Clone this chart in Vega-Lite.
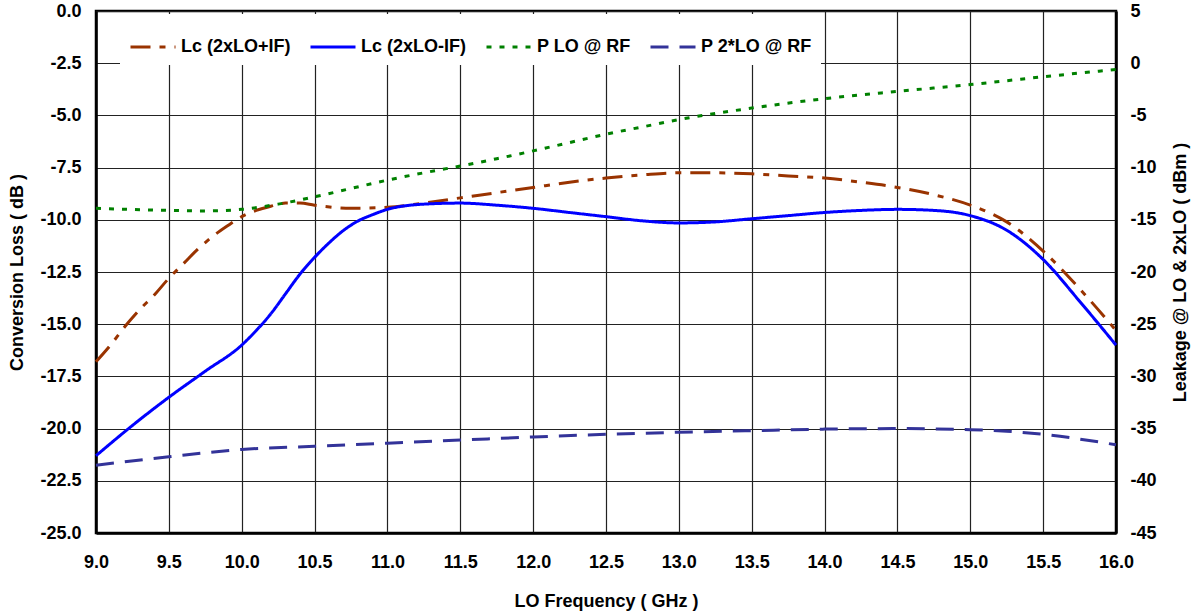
{
  "$schema": "https://vega.github.io/schema/vega-lite/v6.json",
  "width": 1020,
  "height": 522,
  "autosize": {"type": "none"},
  "padding": {"left": 96, "top": 11, "right": 79, "bottom": 81},
  "background": "white",
  "datasets": {
    "cl": [
      {"f": 9.0, "v": -16.8, "s": "Lc (2xLO+IF)"},
      {"f": 9.1, "v": -16.0, "s": "Lc (2xLO+IF)"},
      {"f": 9.2, "v": -15.1, "s": "Lc (2xLO+IF)"},
      {"f": 9.3, "v": -14.3, "s": "Lc (2xLO+IF)"},
      {"f": 9.4, "v": -13.6, "s": "Lc (2xLO+IF)"},
      {"f": 9.5, "v": -12.8, "s": "Lc (2xLO+IF)"},
      {"f": 9.6, "v": -12.1, "s": "Lc (2xLO+IF)"},
      {"f": 9.7, "v": -11.4, "s": "Lc (2xLO+IF)"},
      {"f": 9.8, "v": -10.8, "s": "Lc (2xLO+IF)"},
      {"f": 9.9, "v": -10.3, "s": "Lc (2xLO+IF)"},
      {"f": 10.0, "v": -9.85, "s": "Lc (2xLO+IF)"},
      {"f": 10.1, "v": -9.55, "s": "Lc (2xLO+IF)"},
      {"f": 10.2, "v": -9.35, "s": "Lc (2xLO+IF)"},
      {"f": 10.3, "v": -9.2, "s": "Lc (2xLO+IF)"},
      {"f": 10.4, "v": -9.2, "s": "Lc (2xLO+IF)"},
      {"f": 10.5, "v": -9.3, "s": "Lc (2xLO+IF)"},
      {"f": 10.75, "v": -9.45, "s": "Lc (2xLO+IF)"},
      {"f": 11.0, "v": -9.4, "s": "Lc (2xLO+IF)"},
      {"f": 11.25, "v": -9.2, "s": "Lc (2xLO+IF)"},
      {"f": 11.5, "v": -8.95, "s": "Lc (2xLO+IF)"},
      {"f": 11.75, "v": -8.7, "s": "Lc (2xLO+IF)"},
      {"f": 12.0, "v": -8.45, "s": "Lc (2xLO+IF)"},
      {"f": 12.25, "v": -8.2, "s": "Lc (2xLO+IF)"},
      {"f": 12.5, "v": -8.0, "s": "Lc (2xLO+IF)"},
      {"f": 12.75, "v": -7.85, "s": "Lc (2xLO+IF)"},
      {"f": 13.0, "v": -7.75, "s": "Lc (2xLO+IF)"},
      {"f": 13.25, "v": -7.75, "s": "Lc (2xLO+IF)"},
      {"f": 13.5, "v": -7.8, "s": "Lc (2xLO+IF)"},
      {"f": 13.75, "v": -7.9, "s": "Lc (2xLO+IF)"},
      {"f": 14.0, "v": -8.0, "s": "Lc (2xLO+IF)"},
      {"f": 14.25, "v": -8.2, "s": "Lc (2xLO+IF)"},
      {"f": 14.5, "v": -8.45, "s": "Lc (2xLO+IF)"},
      {"f": 14.75, "v": -8.8, "s": "Lc (2xLO+IF)"},
      {"f": 15.0, "v": -9.3, "s": "Lc (2xLO+IF)"},
      {"f": 15.25, "v": -10.1, "s": "Lc (2xLO+IF)"},
      {"f": 15.5, "v": -11.5, "s": "Lc (2xLO+IF)"},
      {"f": 15.75, "v": -13.3, "s": "Lc (2xLO+IF)"},
      {"f": 16.0, "v": -15.3, "s": "Lc (2xLO+IF)"},
      {"f": 9.0, "v": -21.3, "s": "Lc (2xLO-IF)"},
      {"f": 9.25, "v": -19.85, "s": "Lc (2xLO-IF)"},
      {"f": 9.5, "v": -18.5, "s": "Lc (2xLO-IF)"},
      {"f": 9.75, "v": -17.25, "s": "Lc (2xLO-IF)"},
      {"f": 10.0, "v": -16.0, "s": "Lc (2xLO-IF)"},
      {"f": 10.1, "v": -15.3, "s": "Lc (2xLO-IF)"},
      {"f": 10.2, "v": -14.5, "s": "Lc (2xLO-IF)"},
      {"f": 10.3, "v": -13.55, "s": "Lc (2xLO-IF)"},
      {"f": 10.4, "v": -12.6, "s": "Lc (2xLO-IF)"},
      {"f": 10.5, "v": -11.8, "s": "Lc (2xLO-IF)"},
      {"f": 10.6, "v": -11.1, "s": "Lc (2xLO-IF)"},
      {"f": 10.7, "v": -10.5, "s": "Lc (2xLO-IF)"},
      {"f": 10.8, "v": -10.05, "s": "Lc (2xLO-IF)"},
      {"f": 10.9, "v": -9.75, "s": "Lc (2xLO-IF)"},
      {"f": 11.0, "v": -9.5, "s": "Lc (2xLO-IF)"},
      {"f": 11.25, "v": -9.25, "s": "Lc (2xLO-IF)"},
      {"f": 11.5, "v": -9.2, "s": "Lc (2xLO-IF)"},
      {"f": 11.75, "v": -9.3, "s": "Lc (2xLO-IF)"},
      {"f": 12.0, "v": -9.45, "s": "Lc (2xLO-IF)"},
      {"f": 12.25, "v": -9.65, "s": "Lc (2xLO-IF)"},
      {"f": 12.5, "v": -9.85, "s": "Lc (2xLO-IF)"},
      {"f": 12.75, "v": -10.05, "s": "Lc (2xLO-IF)"},
      {"f": 13.0, "v": -10.15, "s": "Lc (2xLO-IF)"},
      {"f": 13.25, "v": -10.1, "s": "Lc (2xLO-IF)"},
      {"f": 13.5, "v": -9.95, "s": "Lc (2xLO-IF)"},
      {"f": 13.75, "v": -9.8, "s": "Lc (2xLO-IF)"},
      {"f": 14.0, "v": -9.65, "s": "Lc (2xLO-IF)"},
      {"f": 14.25, "v": -9.55, "s": "Lc (2xLO-IF)"},
      {"f": 14.5, "v": -9.5, "s": "Lc (2xLO-IF)"},
      {"f": 14.75, "v": -9.55, "s": "Lc (2xLO-IF)"},
      {"f": 15.0, "v": -9.8, "s": "Lc (2xLO-IF)"},
      {"f": 15.25, "v": -10.5, "s": "Lc (2xLO-IF)"},
      {"f": 15.5, "v": -11.9, "s": "Lc (2xLO-IF)"},
      {"f": 15.75, "v": -13.9, "s": "Lc (2xLO-IF)"},
      {"f": 16.0, "v": -16.0, "s": "Lc (2xLO-IF)"}
    ],
    "leak": [
      {"f": 9.0, "v": -13.9, "s": "P LO @ RF"},
      {"f": 9.5, "v": -14.1, "s": "P LO @ RF"},
      {"f": 9.75, "v": -14.15, "s": "P LO @ RF"},
      {"f": 10.0, "v": -14.0, "s": "P LO @ RF"},
      {"f": 10.25, "v": -13.5, "s": "P LO @ RF"},
      {"f": 10.5, "v": -12.8, "s": "P LO @ RF"},
      {"f": 10.75, "v": -12.0, "s": "P LO @ RF"},
      {"f": 11.0, "v": -11.2, "s": "P LO @ RF"},
      {"f": 11.25, "v": -10.5, "s": "P LO @ RF"},
      {"f": 11.5, "v": -9.85, "s": "P LO @ RF"},
      {"f": 11.75, "v": -9.15, "s": "P LO @ RF"},
      {"f": 12.0, "v": -8.4, "s": "P LO @ RF"},
      {"f": 12.25, "v": -7.6, "s": "P LO @ RF"},
      {"f": 12.5, "v": -6.8, "s": "P LO @ RF"},
      {"f": 12.75, "v": -6.1, "s": "P LO @ RF"},
      {"f": 13.0, "v": -5.4, "s": "P LO @ RF"},
      {"f": 13.5, "v": -4.3, "s": "P LO @ RF"},
      {"f": 14.0, "v": -3.4, "s": "P LO @ RF"},
      {"f": 14.5, "v": -2.7, "s": "P LO @ RF"},
      {"f": 15.0, "v": -2.05, "s": "P LO @ RF"},
      {"f": 15.5, "v": -1.3, "s": "P LO @ RF"},
      {"f": 16.0, "v": -0.6, "s": "P LO @ RF"},
      {"f": 9.0, "v": -38.5, "s": "P 2*LO @ RF"},
      {"f": 9.5, "v": -37.7, "s": "P 2*LO @ RF"},
      {"f": 10.0, "v": -37.0, "s": "P 2*LO @ RF"},
      {"f": 10.5, "v": -36.7, "s": "P 2*LO @ RF"},
      {"f": 11.0, "v": -36.4, "s": "P 2*LO @ RF"},
      {"f": 11.5, "v": -36.1, "s": "P 2*LO @ RF"},
      {"f": 12.0, "v": -35.8, "s": "P 2*LO @ RF"},
      {"f": 12.5, "v": -35.55, "s": "P 2*LO @ RF"},
      {"f": 13.0, "v": -35.35, "s": "P 2*LO @ RF"},
      {"f": 13.5, "v": -35.2, "s": "P 2*LO @ RF"},
      {"f": 14.0, "v": -35.05, "s": "P 2*LO @ RF"},
      {"f": 14.5, "v": -35.0, "s": "P 2*LO @ RF"},
      {"f": 15.0, "v": -35.1, "s": "P 2*LO @ RF"},
      {"f": 15.25, "v": -35.25, "s": "P 2*LO @ RF"},
      {"f": 15.5, "v": -35.55, "s": "P 2*LO @ RF"},
      {"f": 15.75, "v": -36.0, "s": "P 2*LO @ RF"},
      {"f": 16.0, "v": -36.55, "s": "P 2*LO @ RF"}
    ]
  },
  "encoding": {
    "x": {
      "field": "f",
      "type": "quantitative",
      "scale": {"domain": [9, 16], "nice": false, "zero": false},
      "axis": {
        "title": "LO Frequency ( GHz )",
        "values": [9, 9.5, 10, 10.5, 11, 11.5, 12, 12.5, 13, 13.5, 14, 14.5, 15, 15.5, 16],
        "format": ".1f",
        "labelPadding": 20,
        "titleY": 68,
        "titleBaseline": "middle",
        "labelFlush": false,
        "labelOverlap": false
      }
    },
    "color": {
      "field": "s",
      "type": "nominal",
      "scale": {
        "domain": ["Lc (2xLO+IF)", "Lc (2xLO-IF)", "P LO @ RF", "P 2*LO @ RF"],
        "range": ["#993300", "#0000FF", "#008000", "#333399"]
      },
      "legend": {
        "title": null,
        "orient": "none",
        "legendX": 24,
        "legendY": 3,
        "direction": "horizontal",
        "columns": 4,
        "fillColor": "white",
        "padding": 9,
        "symbolType": "stroke",
        "symbolSize": 2025,
        "symbolStrokeWidth": 3,
        "labelFontSize": 18,
        "labelFontWeight": "bold",
        "labelFont": "Liberation Sans",
        "labelColor": "#000",
        "labelOffset": 4,
        "columnPadding": 13,
        "labelLimit": 300
      }
    },
    "strokeDash": {
      "field": "s",
      "type": "nominal",
      "scale": {
        "domain": ["Lc (2xLO+IF)", "Lc (2xLO-IF)", "P LO @ RF", "P 2*LO @ RF"],
        "range": [[20, 9, 6, 9], [1, 0], [5, 8], [18, 11]]
      },
      "legend": {
        "title": null,
        "orient": "none",
        "legendX": 24,
        "legendY": 3,
        "direction": "horizontal",
        "columns": 4,
        "fillColor": "white",
        "padding": 9,
        "symbolType": "stroke",
        "symbolSize": 2025,
        "symbolStrokeWidth": 3,
        "labelFontSize": 18,
        "labelFontWeight": "bold",
        "labelFont": "Liberation Sans",
        "labelColor": "#000",
        "labelOffset": 4,
        "columnPadding": 13,
        "labelLimit": 300
      }
    }
  },
  "layer": [
    {
      "data": {"name": "cl"},
      "mark": {"type": "line", "interpolate": "monotone", "strokeWidth": 3},
      "encoding": {
        "y": {
          "field": "v",
          "type": "quantitative",
          "scale": {"domain": [-25, 0], "nice": false, "zero": false},
          "axis": {
            "title": "Conversion Loss ( dB )",
            "orient": "left",
            "values": [-25, -22.5, -20, -17.5, -15, -12.5, -10, -7.5, -5, -2.5, 0],
            "format": ".1f",
            "labelExpr": "replace(datum.label, '\u2212', '-')",
            "grid": true,
            "labelPadding": 15,
            "titleX": -79,
            "titleY": 261,
            "titleAngle": -90,
            "titleAlign": "center",
            "titleBaseline": "middle",
            "labelOverlap": false
          }
        }
      }
    },
    {
      "data": {"name": "leak"},
      "mark": {"type": "line", "interpolate": "monotone", "strokeWidth": 3},
      "encoding": {
        "y": {
          "field": "v",
          "type": "quantitative",
          "scale": {"domain": [-45, 5], "nice": false, "zero": false},
          "axis": {
            "title": "Leakage @ LO & 2xLO ( dBm )",
            "orient": "right",
            "values": [-45, -40, -35, -30, -25, -20, -15, -10, -5, 0, 5],
            "format": "d",
            "labelExpr": "replace(datum.label, '\u2212', '-')",
            "grid": false,
            "labelPadding": 14,
            "titleX": 64,
            "titleY": 261,
            "titleAngle": -90,
            "titleAlign": "center",
            "titleBaseline": "middle",
            "labelOverlap": false
          }
        }
      }
    }
  ],
  "resolve": {"scale": {"y": "independent"}},
  "config": {
    "font": "Liberation Sans",
    "view": {"stroke": "#000", "strokeWidth": 2.5},
    "axis": {
      "labelFont": "Liberation Sans",
      "labelFontSize": 18,
      "labelFontWeight": "bold",
      "labelColor": "#000",
      "titleFont": "Liberation Sans",
      "titleFontSize": 18,
      "titleFontWeight": "bold",
      "titleColor": "#000",
      "domainColor": "#000",
      "domainWidth": 2.5,
      "ticks": false,
      "gridColor": "#222222",
      "gridWidth": 1.2
    }
  }
}
